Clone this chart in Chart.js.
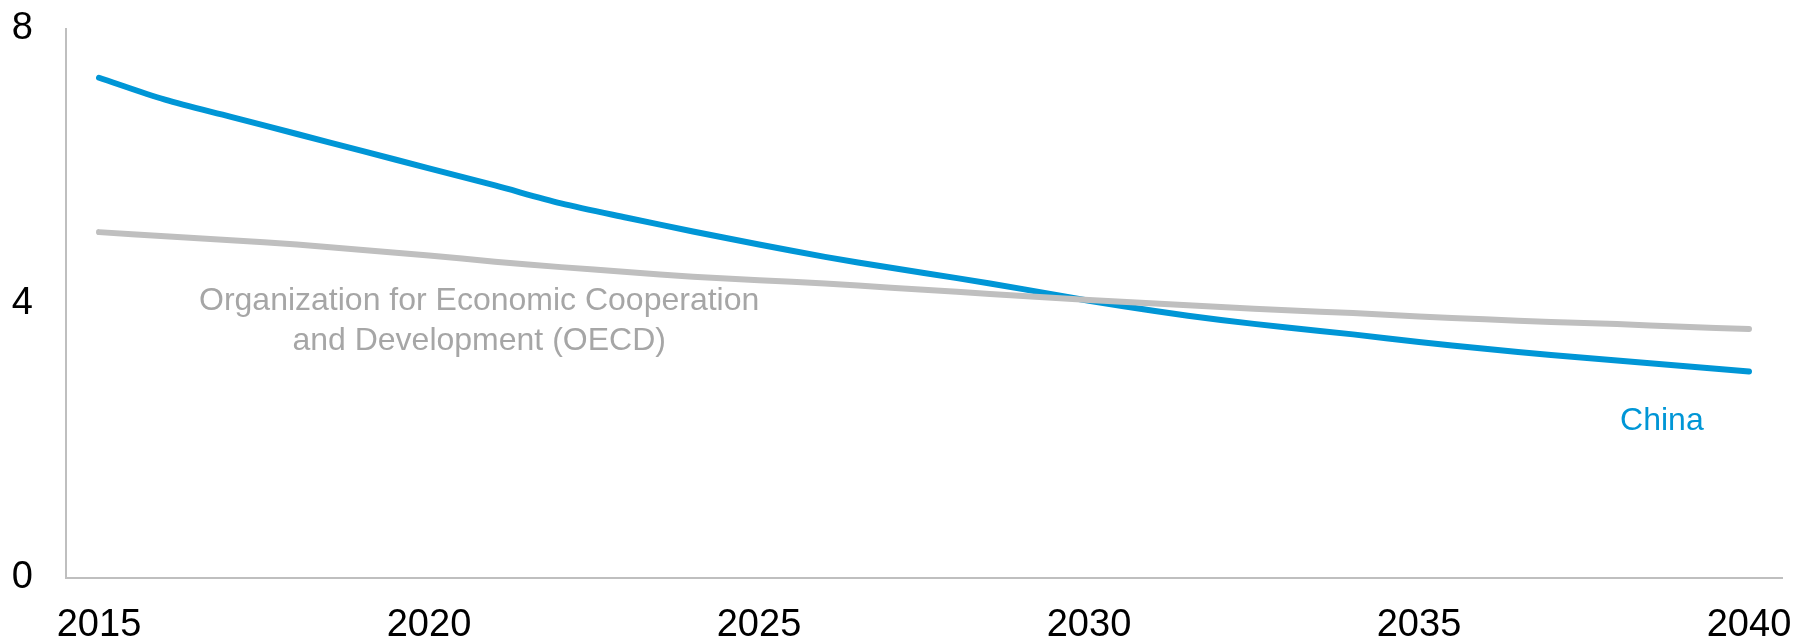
<!DOCTYPE html>
<html>
<head>
<meta charset="utf-8">
<script src="https://cdn.jsdelivr.net/npm/chart.js@4"></script>
<style>
  html, body { margin: 0; padding: 0; background: #fff; }
  #wrap { width: 1796px; height: 639px; }
</style>
</head>
<body>
<div id="wrap"><canvas id="chart" width="1796" height="639"></canvas></div>
<script>
// Years on the x axis
const years = ['2015','2016','2017','2018','2019','2020','2021','2022','2023','2024','2025','2026','2027',
               '2028','2029','2030','2031','2032','2033','2034','2035','2036','2037','2038','2039','2040'];

// Series values
const china = [7.29, 6.97, 6.72, 6.47, 6.22, 5.97, 5.72, 5.46, 5.25, 5.05, 4.86, 4.68, 4.52,
               4.37, 4.21, 4.04, 3.89, 3.76, 3.65, 3.55, 3.44, 3.34, 3.25, 3.17, 3.09, 3.01];
const oecd  = [5.04, 4.98, 4.92, 4.86, 4.78, 4.70, 4.61, 4.53, 4.46, 4.39, 4.34, 4.29, 4.23,
               4.17, 4.11, 4.05, 4.00, 3.95, 3.90, 3.86, 3.81, 3.77, 3.73, 3.70, 3.66, 3.63];

const yTicks = [0, 4, 8];

const BLUE = '#0096d6';
const GRAY = '#bfbfbf';

// Text labels next to the lines (x as category index, y in data units)
const seriesLabels = [
    { lines: ['Organization for Economic Cooperation', 'and Development (OECD)'], x: 5.76, y: 4.04, color: '#a6a6a6' },
    { lines: ['China'], x: 23.68, y: 2.29, color: BLUE }
];

const labelPlugin = {
    id: 'seriesLabels',
    afterDatasetsDraw(chart) {
        const ctx = chart.ctx;
        const xs = chart.scales.x, ys = chart.scales.y;
        ctx.save();
        ctx.font = '32px "Liberation Sans", Arial, sans-serif';
        ctx.textAlign = 'center';
        ctx.textBaseline = 'middle';
        seriesLabels.forEach(l => {
            const px = xs.getPixelForValue(l.x);
            const py = ys.getPixelForValue(l.y);
            ctx.fillStyle = l.color;
            l.lines.forEach((t, i) => ctx.fillText(t, px, py + i * 40));
        });
        ctx.restore();
    }
};

new Chart(document.getElementById('chart').getContext('2d'), {
    type: 'line',
    data: {
        labels: years,
        datasets: [
            { label: 'OECD', data: oecd, borderColor: GRAY, borderWidth: 6, pointRadius: 0, tension: 0.3, borderCapStyle: 'round' },
            { label: 'China', data: china, borderColor: BLUE, borderWidth: 6, pointRadius: 0, tension: 0.3, borderCapStyle: 'round' }
        ]
    },
    options: {
        responsive: false,
        animation: false,
        layout: { padding: { top: 29, right: 14, left: 0, bottom: 0 } },
        plugins: {
            legend: { display: false },
            tooltip: { enabled: false }
        },
        scales: {
            x: {
                offset: true,
                grid: { display: false },
                border: { display: true, color: GRAY, width: 2 },
                ticks: {
                    autoSkip: false,
                    maxRotation: 0,
                    color: '#000',
                    padding: 17,
                    font: { size: 38, family: '"Liberation Sans", Arial, sans-serif' },
                    callback: function (value, index) {
                        const y = years[index];
                        return (+y) % 5 === 0 ? y : '';
                    }
                },
                afterFit: function (scale) {
                    scale.height = 61;
                    scale.paddingLeft = 0;
                    scale.paddingRight = 0;
                }
            },
            y: {
                min: 0,
                max: 8,
                afterBuildTicks: function (scale) { scale.ticks = yTicks.map(v => ({ value: v })); },
                grid: { display: false },
                border: { display: true, color: GRAY, width: 2 },
                ticks: {
                    color: '#000',
                    padding: 25,
                    font: { size: 38, family: '"Liberation Sans", Arial, sans-serif' }
                },
                afterFit: function (scale) {
                    scale.width = 66;
                    scale.paddingTop = 0;
                    scale.paddingBottom = 0;
                }
            }
        }
    },
    plugins: [labelPlugin]
});
</script>
</body>
</html>
